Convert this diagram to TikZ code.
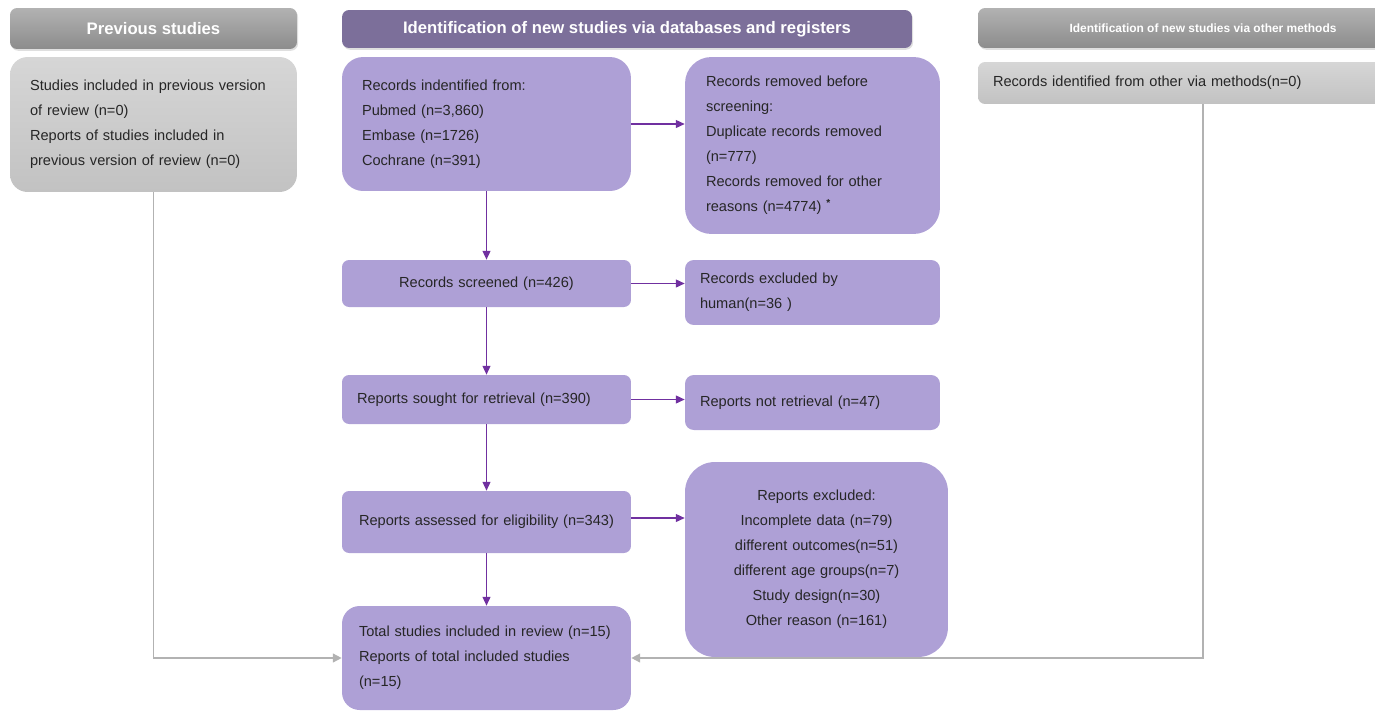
\documentclass[tikz,border=0pt]{standalone}
\usepackage{fontspec}
\setmainfont{Liberation Sans}
\usetikzlibrary{arrows.meta,shadows}

\definecolor{boxpurple}{RGB}{174,160,214}
\definecolor{headpurple}{RGB}{124,111,154}
\definecolor{arrowpurple}{RGB}{112,48,160}
\definecolor{linegray}{RGB}{178,178,178}
\definecolor{headgraytop}{RGB}{178,178,178}
\definecolor{headgraybot}{RGB}{140,140,140}
\definecolor{boxgraytop}{RGB}{214,214,214}
\definecolor{boxgraybot}{RGB}{194,194,194}

\tikzset{
  txt/.style={font=\fontsize{8.3}{14.2}\selectfont, text=black!85},
  head/.style={rounded corners=4pt, text=white, inner sep=0pt,
    font=\fontsize{9.5}{11}\selectfont\bfseries,
    drop shadow={opacity=0.25, shadow xshift=0.6pt, shadow yshift=-1pt}},
  graybox/.style={txt, top color=boxgraytop, bottom color=boxgraybot, inner ysep=0pt},
  pbox/.style={txt, fill=boxpurple, inner ysep=0pt},
  parrow/.style={draw=arrowpurple, line width=0.7pt, -{Triangle[length=5pt,width=4.5pt]}},
  garrow/.style={draw=linegray, line width=0.9pt, -{Triangle[length=5pt,width=5pt]}}
}

\begin{document}
\begin{tikzpicture}[x=0.02cm, y=-0.02cm]
  \useasboundingbox (0,0) rectangle (1375,710);

  % headers
  \node[head, top color=headgraytop, bottom color=headgraybot, minimum width=5.74cm, minimum height=0.82cm] (hprev) at (153.5,28.5) {Previous studies};
  \node[head, fill=headpurple, minimum width=11.4cm, minimum height=0.76cm] (hdb) at (627,29) {Identification of new studies via databases and registers};
  \node[head, top color=headgraytop, bottom color=headgraybot, minimum width=9cm, minimum height=0.8cm, font=\fontsize{6.8}{8}\selectfont\bfseries] (hoth) at (1203,28) {Identification of new studies via other methods};

  % left column
  \node[graybox, rounded corners=10pt, minimum width=5.74cm, minimum height=2.7cm, text width=4.94cm, inner xsep=0.4cm, align=left] (prev) at (153.5,124.5)
    {Studies included in previous version\\of review (n=0)\\Reports of studies included in\\previous version of review (n=0)};

  % right column
  \node[graybox, rounded corners=4pt, minimum width=9cm, minimum height=0.84cm, text width=8.4cm, inner xsep=0.3cm, align=left] (oth) at (1203,83)
    {Records identified from other via methods(n=0)};

  % middle column
  \node[pbox, rounded corners=12pt, minimum width=5.78cm, minimum height=2.68cm, text width=4.98cm, inner xsep=0.4cm, align=left] (rid) at (486.5,124)
    {Records indentified from:\\Pubmed (n=3,860)\\Embase (n=1726)\\Cochrane (n=391)};
  \node[pbox, rounded corners=4pt, minimum width=5.78cm, minimum height=0.94cm, text width=5cm, align=center] (scr) at (486.5,283.5)
    {Records screened (n=426)};
  \node[pbox, rounded corners=4pt, minimum width=5.78cm, minimum height=0.98cm, text width=5.18cm, inner xsep=0.3cm, align=left] (sou) at (486.5,399.5)
    {Reports sought for retrieval (n=390)};
  \node[pbox, rounded corners=4pt, minimum width=5.78cm, minimum height=1.24cm, text width=5.3cm, inner xsep=0.24cm, align=left] (ass) at (486.5,522)
    {\hspace*{0.1cm}Reports assessed for eligibility (n=343)};
  \node[pbox, rounded corners=10pt, minimum width=5.78cm, minimum height=2.08cm, text width=5.3cm, inner xsep=0.24cm, align=left] (tot) at (486.5,658)
    {\hspace*{0.1cm}Total studies included in review (n=15)\\\hspace*{0.1cm}Reports of total included studies\\\hspace*{0.1cm}(n=15)};

  % exclusions
  \node[pbox, rounded corners=15pt, minimum width=5.1cm, minimum height=3.54cm, text width=4.26cm, inner xsep=0.42cm, align=left] (rem) at (812.5,145.5)
    {Records removed before\\screening:\\Duplicate records removed\\(n=777)\\Records removed for other\\reasons (n=4774) \textsuperscript{\textbf{*}}};
  \node[pbox, rounded corners=5pt, minimum width=5.1cm, minimum height=1.3cm, text width=4.5cm, inner xsep=0.3cm, align=left] (exc1) at (812.5,292.5)
    {Records excluded by\\human(n=36 )};
  \node[pbox, rounded corners=5pt, minimum width=5.1cm, minimum height=1.1cm, text width=4.5cm, inner xsep=0.3cm, align=left] (notr) at (812.5,402.5)
    {Reports not retrieval (n=47)};
  \node[pbox, rounded corners=17pt, minimum width=5.26cm, minimum height=3.9cm, text width=4.6cm, align=center] (exc2) at (816.5,559.5)
    {Reports excluded:\\Incomplete data (n=79)\\different outcomes(n=51)\\different age groups(n=7)\\Study design(n=30)\\Other reason (n=161)};

  % purple arrows
  \draw[parrow] (rid) -- (scr);
  \draw[parrow] (scr) -- (sou);
  \draw[parrow] (sou) -- (ass);
  \draw[parrow] (ass) -- (tot);
  \draw[parrow] (rid.east) -- (rid.east -| rem.west);
  \draw[parrow] (scr.east) -- (scr.east -| exc1.west);
  \draw[parrow] (sou.east) -- (sou.east -| notr.west);
  \draw[parrow] ([yshift=0.08cm]ass.east) -- ([yshift=0.08cm]ass.east -| exc2.west);

  % gray arrows
  \draw[garrow] (prev.south) |- (tot.west);
  \draw[garrow] (oth.south) |- (tot.east);
\end{tikzpicture}
\end{document}
